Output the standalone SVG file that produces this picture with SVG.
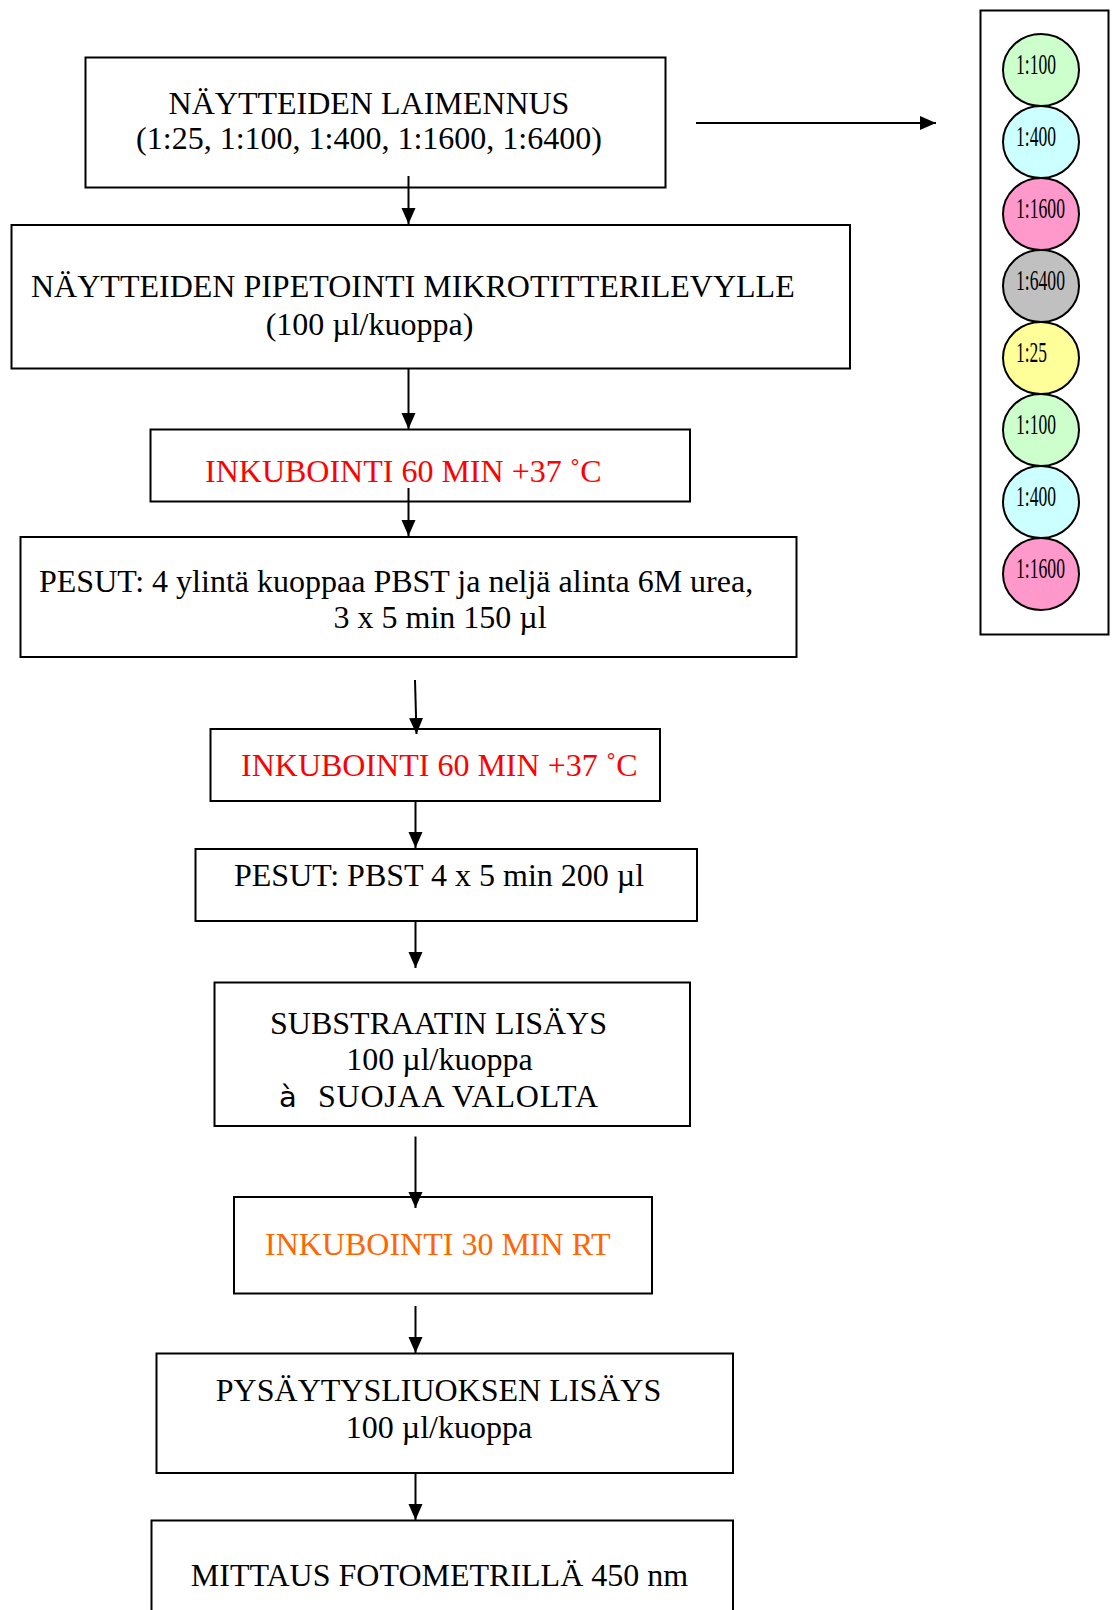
<svg xmlns="http://www.w3.org/2000/svg" width="1114" height="1610" viewBox="0 0 1114 1610">
<defs>
<marker id="ah" markerUnits="userSpaceOnUse" markerWidth="17" markerHeight="15" refX="16" refY="7" orient="auto">
<path d="M0,0 L16,7 L0,14 z" fill="#000"/>
</marker>
<style>
.box{fill:#fff;stroke:#000;stroke-width:2}
.t{font-family:"Liberation Serif","Times New Roman",serif;font-size:32px;fill:#000}
.s{font-family:"DejaVu Sans","Liberation Sans",sans-serif;font-size:29px;fill:#000}
.red{fill:#ff0000}
.org{fill:#ff6600}
.c{font-family:"Liberation Serif","Times New Roman",serif;font-size:29.5px;fill:#000}
.el{stroke:#000;stroke-width:2}
.con{stroke:#000;stroke-width:2;fill:none;marker-end:url(#ah)}
</style>
</defs>
<rect width="1114" height="1610" fill="#fff"/>

<g id="plate">
<rect class="box" x="980.5" y="10.5" width="128" height="624"/>
<ellipse class="el" cx="1041" cy="70" rx="38" ry="36" fill="#ccffcc"/>
<ellipse class="el" cx="1041" cy="142" rx="38" ry="36" fill="#ccffff"/>
<ellipse class="el" cx="1041" cy="214" rx="38" ry="36" fill="#ff99cc"/>
<ellipse class="el" cx="1041" cy="286" rx="38" ry="36" fill="#c0c0c0"/>
<ellipse class="el" cx="1041" cy="358" rx="38" ry="36" fill="#ffff99"/>
<ellipse class="el" cx="1041" cy="430" rx="38" ry="36" fill="#ccffcc"/>
<ellipse class="el" cx="1041" cy="502" rx="38" ry="36" fill="#ccffff"/>
<ellipse class="el" cx="1041" cy="574" rx="38" ry="36" fill="#ff99cc"/>
<text class="c" x="1016" y="74" textLength="40" lengthAdjust="spacingAndGlyphs">1:100</text>
<text class="c" x="1016" y="146" textLength="40" lengthAdjust="spacingAndGlyphs">1:400</text>
<text class="c" x="1016" y="218" textLength="49" lengthAdjust="spacingAndGlyphs">1:1600</text>
<text class="c" x="1016" y="290" textLength="49" lengthAdjust="spacingAndGlyphs">1:6400</text>
<text class="c" x="1016" y="362" textLength="31" lengthAdjust="spacingAndGlyphs">1:25</text>
<text class="c" x="1016" y="434" textLength="40" lengthAdjust="spacingAndGlyphs">1:100</text>
<text class="c" x="1016" y="506" textLength="40" lengthAdjust="spacingAndGlyphs">1:400</text>
<text class="c" x="1016" y="578" textLength="49" lengthAdjust="spacingAndGlyphs">1:1600</text>
</g>

<g id="n1">
<rect class="box" x="85.5" y="57.5" width="580" height="130"/>
<text class="t" x="369" y="113.5" text-anchor="middle">NÄYTTEIDEN LAIMENNUS</text>
<text class="t" x="369" y="149" text-anchor="middle">(1:25, 1:100, 1:400, 1:1600, 1:6400)</text>
</g>

<g id="n2">
<rect class="box" x="11.5" y="225" width="838.5" height="143.5"/>
<text class="t" x="31" y="297">NÄYTTEIDEN PIPETOINTI MIKROTITTERILEVYLLE</text>
<text class="t" x="369.5" y="334.5" text-anchor="middle">(100 µl/kuoppa)</text>
</g>

<g id="n3">
<rect class="box" x="150.5" y="429.5" width="539.5" height="72"/>
<text class="t red" x="205" y="481.5">INKUBOINTI 60 MIN +37 ˚C</text>
</g>

<g id="n4">
<rect class="box" x="20.5" y="537" width="776" height="120"/>
<text class="t" x="39" y="592">PESUT: 4 ylintä kuoppaa PBST ja neljä alinta 6M urea,</text>
<text class="t" x="333.5" y="627.5">3 x 5 min 150 µl</text>
</g>

<g id="n5">
<rect class="box" x="210.5" y="729" width="449.5" height="72"/>
<text class="t red" x="241" y="776">INKUBOINTI 60 MIN +37 ˚C</text>
</g>

<g id="n6">
<rect class="box" x="195.5" y="849" width="501.5" height="72"/>
<text class="t" x="234" y="885.5">PESUT: PBST 4 x 5 min 200 µl</text>
</g>

<g id="n7">
<rect class="box" x="214.5" y="982.5" width="475.5" height="143.5"/>
<text class="t" x="438.5" y="1034" text-anchor="middle">SUBSTRAATIN LISÄYS</text>
<text class="t" x="439.5" y="1070" text-anchor="middle">100 µl/kuoppa</text>
<text class="s" x="279" y="1107">à</text>
<text class="t" x="318" y="1107" textLength="280" lengthAdjust="spacing">SUOJAA VALOLTA</text>
</g>

<g id="n8">
<rect class="box" x="234" y="1197" width="418" height="96.5"/>
<text class="t org" x="265" y="1254.5">INKUBOINTI 30 MIN RT</text>
</g>

<g id="n9">
<rect class="box" x="156.5" y="1353.5" width="576.5" height="119.5"/>
<text class="t" x="438.5" y="1401" text-anchor="middle">PYSÄYTYSLIUOKSEN LISÄYS</text>
<text class="t" x="439" y="1437.5" text-anchor="middle">100 µl/kuoppa</text>
</g>

<g id="n10">
<rect class="box" x="151.5" y="1520.5" width="581.5" height="120"/>
<text class="t" x="439.5" y="1585.5" text-anchor="middle">MITTAUS FOTOMETRILLÄ 450 nm</text>
</g>

<g id="connectors">
<line class="con" x1="696" y1="123" x2="936" y2="123"/>
<line class="con" x1="408.5" y1="176" x2="408.5" y2="224"/>
<line class="con" x1="408.5" y1="368.5" x2="408.5" y2="429"/>
<line class="con" x1="408.5" y1="488" x2="408.5" y2="536"/>
<line class="con" x1="415" y1="680" x2="416.5" y2="734"/>
<line class="con" x1="415.5" y1="801" x2="415.5" y2="848"/>
<line class="con" x1="415.5" y1="921" x2="415.5" y2="968"/>
<line class="con" x1="415.5" y1="1136.5" x2="415.5" y2="1208"/>
<line class="con" x1="415.5" y1="1306" x2="415.5" y2="1353"/>
<line class="con" x1="415.5" y1="1473" x2="415.5" y2="1520"/>
</g>
</svg>
